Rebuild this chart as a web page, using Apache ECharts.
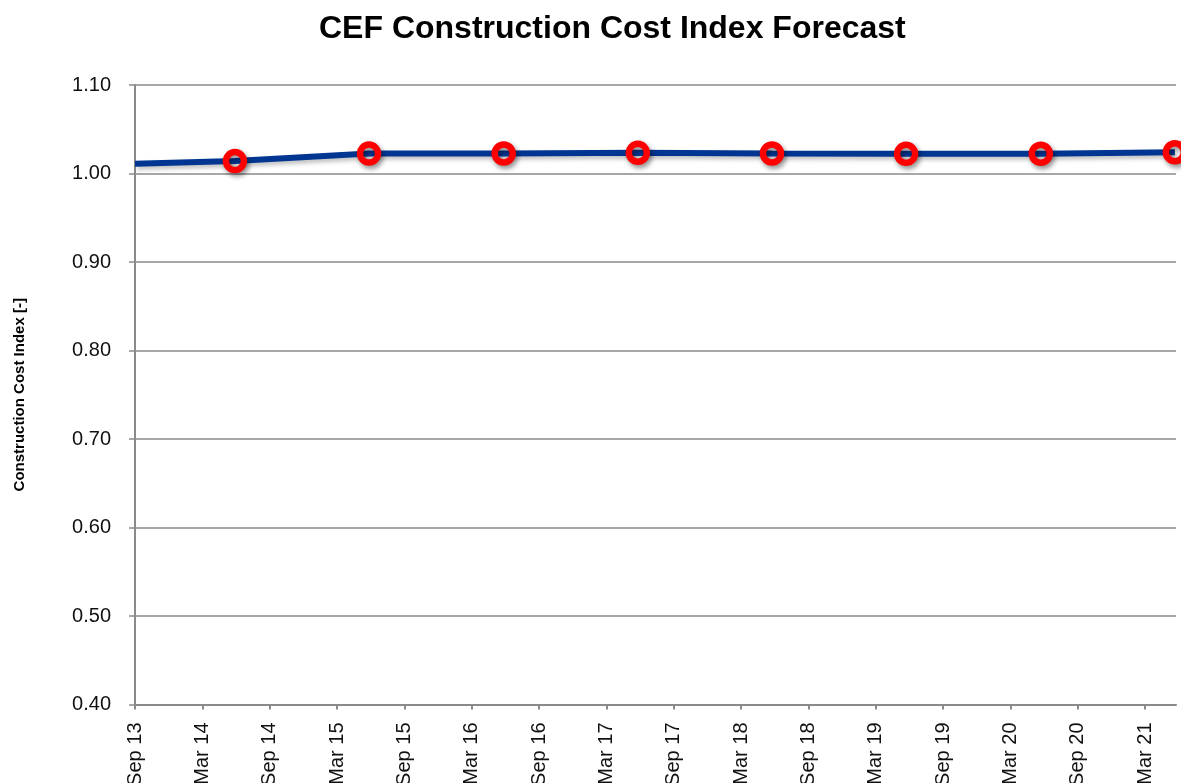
<!DOCTYPE html>
<html>
<head>
<meta charset="utf-8">
<title>CEF Construction Cost Index Forecast</title>
<script src="https://cdn.jsdelivr.net/npm/echarts@6/dist/echarts.min.js"></script>
<style>
  html, body { margin: 0; padding: 0; background: #fff; }
  #chart { width: 1181px; height: 783px; }
</style>
</head>
<body>
<div id="chart"></div>
<script>
// months counted from Sep 13
var months = [0, 8.9, 20.85, 32.85, 44.8, 56.75, 68.7, 80.7, 92.65]
var costIndex = [1.011, 1.014, 1.0225, 1.0226, 1.0234, 1.0226, 1.0222, 1.0223, 1.024]
var tickLabels = ['Sep 13', 'Mar 14', 'Sep 14', 'Mar 15', 'Sep 15', 'Mar 16', 'Sep 16', 'Mar 17',
  'Sep 17', 'Mar 18', 'Sep 18', 'Mar 19', 'Sep 19', 'Mar 20', 'Sep 20', 'Mar 21']

var font = 'Liberation Sans, Arial, sans-serif'
var grey = '#8a8a8a'

var points = months.map(function (m, i) {
  var p = { value: [m, costIndex[i]] }
  if (i === 0) p.symbol = 'none' // first point has no marker
  return p
})

var option = {
  animation: false,
  title: {
    text: 'CEF Construction Cost Index Forecast',
    left: 314,
    top: 8,
    textStyle: { fontFamily: font, fontSize: 32, fontWeight: 'bold', color: '#000' }
  },
  grid: { left: 135, right: 5, top: 85, bottom: 78.5, outerBoundsMode: 'none' },
  xAxis: {
    type: 'value',
    min: 0,
    max: 92.75,
    interval: 6,
    axisLine: { lineStyle: { color: grey, width: 2 } },
    axisTick: { show: true, length: 5, lineStyle: { color: grey, width: 2 } },
    splitLine: { show: false },
    axisLabel: {
      rotate: 90,
      margin: 18,
      showMaxLabel: false,
      fontFamily: font,
      fontSize: 20,
      color: '#111',
      formatter: function (v) {
        var k = Math.round(v / 6)
        return Math.abs(v - k * 6) < 1e-6 ? (tickLabels[k] || '') : ''
      }
    }
  },
  yAxis: {
    type: 'value',
    min: 0.4,
    max: 1.1,
    interval: 0.1,
    name: 'Construction Cost Index [-]',
    nameLocation: 'middle',
    nameGap: 108,
    nameTextStyle: { fontFamily: font, fontSize: 15, fontWeight: 'bold', color: '#000' },
    axisLine: { show: true, lineStyle: { color: grey, width: 2 } },
    axisTick: { show: true, length: 6, lineStyle: { color: grey, width: 1.5 } },
    splitLine: { lineStyle: { color: grey, width: 1.5 } },
    axisLabel: {
      margin: 24,
      fontFamily: font,
      fontSize: 20,
      color: '#111',
      formatter: function (v) { return v.toFixed(2) }
    }
  },
  series: [
    {
      type: 'line',
      data: points,
      symbol: 'circle',
      symbolSize: 18,
      clip: false,
      lineStyle: {
        color: '#003591',
        width: 6,
        shadowColor: 'rgba(0,0,0,0.25)',
        shadowBlur: 4,
        shadowOffsetX: 2,
        shadowOffsetY: 3
      },
      itemStyle: {
        color: 'rgba(255,255,255,0)', // hollow ring, line shows through
        borderColor: '#ff0000',
        borderWidth: 6.5,
        shadowColor: 'rgba(0,0,0,0.45)',
        shadowBlur: 5,
        shadowOffsetX: 2,
        shadowOffsetY: 3
      },
      z: 3
    }
  ]
}

var chart = echarts.init(document.getElementById('chart'))
chart.setOption(option)
</script>
</body>
</html>
